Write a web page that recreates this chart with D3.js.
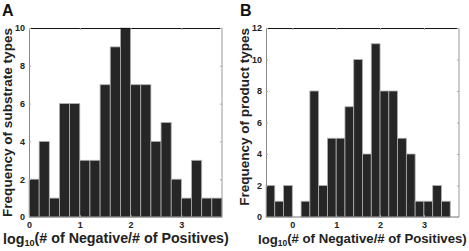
<!DOCTYPE html>
<html><head><meta charset="utf-8">
<script src="https://d3js.org/d3.v7.min.js"></script>
<style>body{margin:0;background:#fff}svg{display:block;font-family:"Liberation Sans",Arial,sans-serif}</style>
</head><body><svg id="c" width="469" height="251"></svg>
<script>
const binWidth = 0.2;
const startA = 0.0;
const countsA = [2,4,1,6,6,3,3,7,9,10,7,7,4,5,2,1,3,1,1];
const startB = -0.6;
const countsB = [2,1,2,0,1,8,2,5,5,7,10,4,11,8,8,5,4,1,1,2,1];
const xTicksA = [0,1,2,3];
const yTicksA = [0,2,4,6,8,10];
const xTicksB = [0,1,2,3];
const yTicksB = [0,2,4,6,8,10,12];
const panels = [
  {label:"A", ylabel:"Frequency of substrate types", counts:countsA, start:startA, xdom:[0,3.8], ydom:[0,10], xt:xTicksA, yt:yTicksA, left:29, right:222, lx:2, xlab:[3,229], ylab:[28,217]},
  {label:"B", ylabel:"Frequency of product types", counts:countsB, start:startB, xdom:[-0.6,3.8], ydom:[0,12], xt:xTicksB, yt:yTicksB, left:266, right:459, lx:240, xlab:[258,467], ylab:[28,206]}
];
const svg = d3.select("#c");
const plotTop = 28, plotBottom = 217;
panels.forEach(p => {
  const x = d3.scaleLinear().domain(p.xdom).range([p.left, p.right]);
  const y = d3.scaleLinear().domain(p.ydom).range([plotBottom, plotTop]);
  const g = svg.append("g");
  g.selectAll("rect.bar").data(p.counts).join("rect").attr("class","bar")
    .attr("x",(d,i)=>x(p.start+i*binWidth))
    .attr("width",(d,i)=>x(p.start+(i+1)*binWidth)-x(p.start+i*binWidth))
    .attr("y",d=>y(d)).attr("height",d=>y(0)-y(d))
    .attr("fill","#262626").attr("stroke","#b0b0b0").attr("stroke-width",0.8);
  g.append("line").attr("x1",p.left).attr("x2",p.right).attr("y1",plotTop+0.5).attr("y2",plotTop+0.5).attr("stroke","#111").attr("stroke-width",1.2);
  g.append("line").attr("x1",p.left).attr("x2",p.right).attr("y1",plotBottom).attr("y2",plotBottom).attr("stroke","#777");
  g.append("line").attr("x1",p.left+0.5).attr("x2",p.left+0.5).attr("y1",plotTop).attr("y2",plotBottom).attr("stroke","#888");
  g.append("line").attr("x1",p.right).attr("x2",p.right).attr("y1",plotTop).attr("y2",plotBottom).attr("stroke","#999");
  const ax = g.append("g").attr("transform",`translate(0,${plotBottom})`)
    .call(d3.axisBottom(x).tickValues(p.xt).tickFormat(d3.format("d")).tickSize(-2).tickPadding(5));
  ax.select(".domain").remove();
  ax.selectAll("text").attr("font-size",9).attr("font-weight","bold").attr("fill","#222");
  ax.selectAll("line").attr("stroke","#aaa");
  const axT = g.append("g").attr("transform",`translate(0,${plotTop})`)
    .call(d3.axisTop(x).tickValues(p.xt).tickFormat("").tickSize(-2));
  axT.select(".domain").remove(); axT.selectAll("line").attr("stroke","#aaa");
  const ay = g.append("g").attr("transform",`translate(${p.left},0)`)
    .call(d3.axisLeft(y).tickValues(p.yt).tickSize(-2).tickPadding(4));
  ay.select(".domain").remove();
  ay.selectAll("text").attr("font-size",9).attr("font-weight","bold").attr("fill","#222");
  ay.selectAll("line").attr("stroke","#aaa");
  const ayR = g.append("g").attr("transform",`translate(${p.right},0)`)
    .call(d3.axisRight(y).tickValues(p.yt).tickFormat("").tickSize(-2));
  ayR.select(".domain").remove(); ayR.selectAll("line").attr("stroke","#aaa");
  g.append("text").attr("x",p.lx).attr("y",16).attr("font-size",16).attr("font-weight","bold").attr("fill","#111").text(p.label);
  // y label fitted to span
  const yl = g.append("text").attr("transform",`translate(${p.left-17.5},${p.ylab[0]}) rotate(-90)`)
    .attr("text-anchor","end").attr("font-size",13).attr("font-weight","bold").attr("fill","#222").text(p.ylabel);
  const yw = yl.node().getComputedTextLength();
  yl.attr("font-size", 13*(p.ylab[1]-p.ylab[0])/yw);
  // x label fitted to span
  const xl = g.append("text").attr("x",p.xlab[0]).attr("y",244)
    .attr("text-anchor","start").attr("font-size",14).attr("font-weight","bold").attr("fill","#222");
  xl.append("tspan").text("log");
  xl.append("tspan").attr("font-size","0.64em").attr("dy","0.22em").text("10");
  xl.append("tspan").attr("dy","-0.22em").text("(# of Negative/# of Positives)");
  const xw = xl.node().getComputedTextLength();
  xl.attr("font-size", 14*(p.xlab[1]-p.xlab[0])/xw);
});
</script></body></html>
